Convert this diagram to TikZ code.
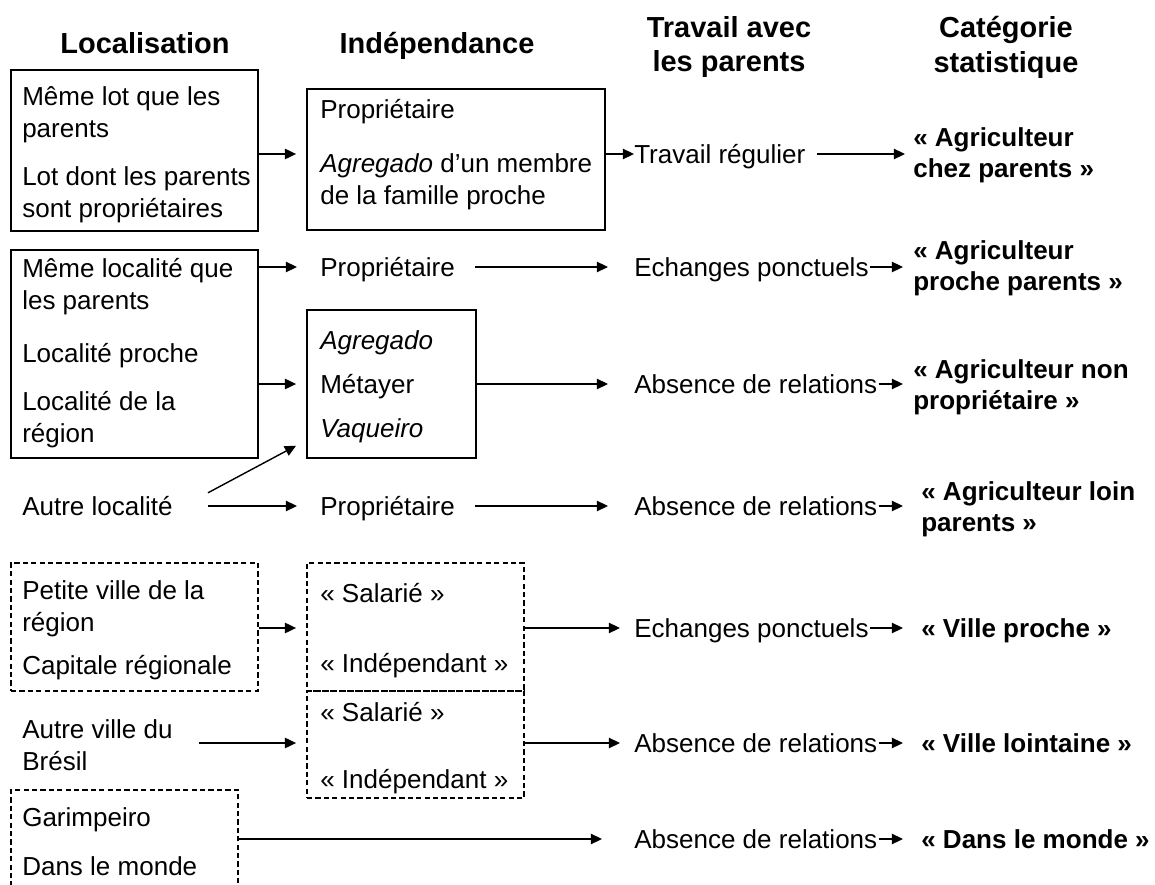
\documentclass[tikz,border=0pt]{standalone}
\usepackage{fontspec}
\setmainfont{Liberation Sans}
\usetikzlibrary{arrows.meta,fit}

\tikzset{
  txt/.style={anchor=west, inner sep=0pt, font=\fontsize{18.5}{22.8}\selectfont},
  cat/.style={txt, font=\bfseries\fontsize{18.5}{22.3}\selectfont},
  ligne/.style={text height=13.2pt, text depth=0pt},
  bloc/.style={align=left},
  titre/.style={inner sep=0pt, align=center, font=\bfseries\fontsize{20.6}{24.8}\selectfont},
  cadre/.style={draw, line width=1.3pt, inner sep=0pt},
  cadrept/.style={cadre, dash pattern=on 0.13cm off 0.08cm},
  fl/.style={line width=1pt, -{Triangle[length=0.28cm, width=0.26cm]}}
}

\begin{document}
\begin{tikzpicture}[x=0.025cm, y=-0.025cm]
        \useasboundingbox (0,0) rectangle (1155,885);
        \clip (0,0) rectangle (1155,885);

        % Titres
        \node[titre, text height=14.8pt, text depth=0pt] (tloc) at (145,43) {Localisation};
        \node[titre, text height=14.8pt, text depth=0pt] (tind) at (437,43) {Indépendance};
        \node[titre] (ttrav) at (729,47) {Travail avec\\les parents};
        \node[titre] (tcat) at (1006,47) {Catégorie\\statistique};

        % Cadres
        \node[cadre, fit={(11,70) (258,231)}] (bl1) {};
        \node[cadre, fit={(307,89) (605,230)}] (bi1) {};
        \node[cadre, fit={(11,250) (258,458)}] (bl2) {};
        \node[cadre, fit={(307,310) (476,458)}] (bi2) {};
        \node[cadrept, fit={(11,563) (258,691)}] (bl3) {};
        \node[cadrept, fit={(307,563) (524,691)}] (bi3) {};
        \node[cadrept, fit={(307,691) (524,798)}] (bi4) {};
        \node[cadrept, fit={(11,790) (238,900)}] (bl4) {};

        % Agriculteur chez parents
        \node[txt, bloc] (l1a) at (22,115) {Même lot que les\\parents};
        \node[txt, bloc] (l1b) at (22,195) {Lot dont les parents\\sont propriétaires};
        \node[txt, ligne] (i1a) at (320,109) {Propriétaire};
        \node[txt, bloc] (i1b) at (320,182) {\textit{Agregado} d’un membre\\de la famille proche};
        \node[txt, ligne] (trav1) at (634,154) {Travail régulier};
        \node[cat, bloc] (cat1) at (913,155) {« Agriculteur\\chez parents »};

        % Agriculteur proche parents
        \node[txt, bloc] (l2a) at (22,287) {Même localité que\\les parents};
        \node[txt, ligne] (l2b) at (22,353) {Localité proche};
        \node[txt, bloc] (l2c) at (22,420) {Localité de la\\région};
        \node[txt, ligne] (prop2) at (320,267) {Propriétaire};
        \node[txt, ligne] (ech2) at (634,267) {Echanges ponctuels};
        \node[cat, bloc] (cat2) at (913,268) {« Agriculteur\\proche parents »};

        % Agriculteur non propriétaire
        \node[txt, ligne] (agr) at (320,340) {\textit{Agregado}};
        \node[txt, ligne] (met) at (320,384) {Métayer};
        \node[txt, ligne] (vaq) at (320,428) {\textit{Vaqueiro}};
        \node[txt, ligne] (abs3) at (634,384) {Absence de relations};
        \node[cat, bloc] (cat3) at (913,387) {« Agriculteur non\\propriétaire »};

        % Agriculteur loin parents
        \node[txt, ligne] (autre) at (22,506) {Autre localité};
        \node[txt, ligne] (prop4) at (320,506) {Propriétaire};
        \node[txt, ligne] (abs4) at (634,506) {Absence de relations};
        \node[cat, bloc] (cat4) at (921,509) {« Agriculteur loin\\parents »};

        % Ville proche
        \node[txt, bloc] (l3a) at (22,609) {Petite ville de la\\région};
        \node[txt, ligne] (l3b) at (22,665) {Capitale régionale};
        \node[txt, ligne] (sal5) at (320,593) {« Salarié »};
        \node[txt, ligne] (ind5) at (320,663) {« Indépendant »};
        \node[txt, ligne] (ech5) at (634,628) {Echanges ponctuels};
        \node[cat, ligne] (cat5) at (921,628) {« Ville proche »};

        % Ville lointaine
        \node[txt, bloc] (avb) at (22,745) {Autre ville du\\Brésil};
        \node[txt, ligne] (sal6) at (320,712) {« Salarié »};
        \node[txt, ligne] (ind6) at (320,779) {« Indépendant »};
        \node[txt, ligne] (abs6) at (634,743) {Absence de relations};
        \node[cat, ligne] (cat6) at (921,743) {« Ville lointaine »};

        % Dans le monde
        \node[txt, ligne] (gar) at (22,817) {Garimpeiro};
        \node[txt, ligne] (dlm) at (22,866) {Dans le monde};
        \node[txt, ligne] (abs7) at (634,839) {Absence de relations};
        \node[cat, ligne] (cat7) at (921,839) {« Dans le monde »};

        % Flèches
        \draw[fl, shorten >=0.25cm] (bl1.east |- trav1) -- (bi1.west |- trav1);
        \draw[fl] (bi1.east |- trav1) -- (trav1.west);
        \draw[fl, shorten <=0.28cm, shorten >=0.2cm] (trav1.east) -- (trav1 -| cat1.west);

        \draw[fl, shorten >=0.575cm] (bl2.east |- prop2) -- (prop2.west);
        \draw[fl, shorten <=0.5cm, shorten >=0.65cm] (prop2.east) -- (ech2.west);
        \draw[fl, shorten <=0.03cm, shorten >=0.25cm] (ech2.east) -- (ech2 -| cat2.west);

        \draw[fl, shorten >=0.25cm] (bl2.east |- met) -- (bi2.west |- met);
        \draw[fl, shorten >=0.65cm] (bi2.east |- met) -- (abs3.west);
        \draw[fl, shorten <=0.03cm, shorten >=0.25cm] (abs3.east) -- (abs3 -| cat3.west);

        \draw[fl] ([xshift=0.875cm, yshift=0.33cm]autre.east) -- ([xshift=-0.25cm, yshift=0.33cm]bi2.south west);
        \draw[fl, shorten <=0.875cm, shorten >=0.575cm] (autre.east) -- (prop4.west);
        \draw[fl, shorten <=0.5cm, shorten >=0.65cm] (prop4.east) -- (abs4.west);
        \draw[fl, shorten <=0.03cm, shorten >=0.45cm] (abs4.east) -- (abs4 -| cat4.west);

        \draw[fl, shorten >=0.25cm] (bl3.east |- ech5) -- (bi3.west |- ech5);
        \draw[fl, shorten >=0.35cm] (bi3.east |- ech5) -- (ech5.west);
        \draw[fl, shorten <=0.03cm, shorten >=0.45cm] (ech5.east) -- (ech5 -| cat5.west);

        \draw[fl, shorten <=0.65cm, shorten >=0.25cm] (avb.east |- abs6) -- (bi4.west |- abs6);
        \draw[fl, shorten >=0.35cm] (bi4.east |- abs6) -- (abs6.west);
        \draw[fl, shorten <=0.03cm, shorten >=0.45cm] (abs6.east) -- (abs6 -| cat6.west);

        \draw[fl, shorten >=0.8cm] (bl4.east |- abs7) -- (abs7.west);
        \draw[fl, shorten <=0.03cm, shorten >=0.45cm] (abs7.east) -- (abs7 -| cat7.west);
\end{tikzpicture}
\end{document}
